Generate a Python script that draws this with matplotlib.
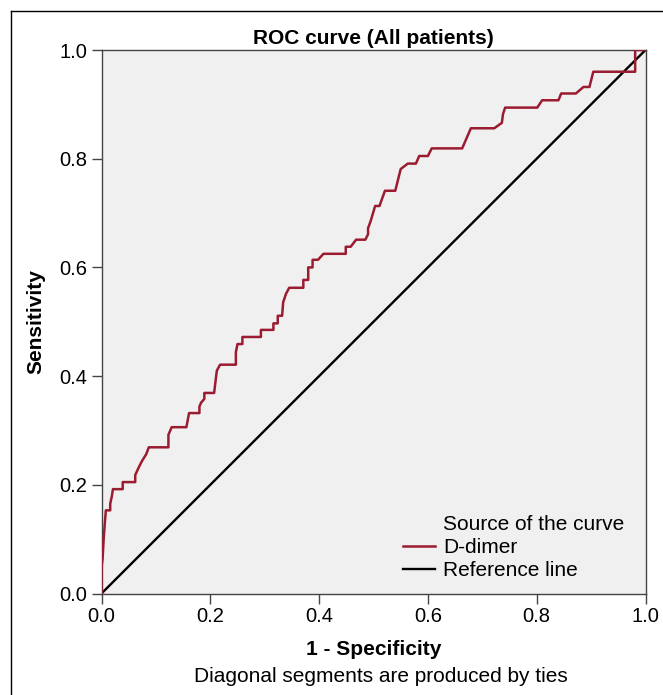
import matplotlib
matplotlib.use("Agg")
import matplotlib.pyplot as plt
from matplotlib.lines import Line2D

plt.rcParams['font.family'] = ['Liberation Sans', 'DejaVu Sans']

# ROC curve vertices (1 - specificity, sensitivity)
fpr = [0.000, 0.000, 0.002, 0.004, 0.006, 0.008, 0.016, 0.016, 0.019, 0.021,
       0.039, 0.039, 0.062, 0.062, 0.068, 0.074, 0.082, 0.087, 0.123, 0.123,
       0.129, 0.156, 0.161, 0.180, 0.180, 0.183, 0.189, 0.189, 0.207, 0.212,
       0.218, 0.247, 0.247, 0.250, 0.259, 0.259, 0.293, 0.293, 0.316, 0.316,
       0.324, 0.324, 0.332, 0.334, 0.339, 0.345, 0.371, 0.371, 0.380, 0.380,
       0.388, 0.388, 0.398, 0.408, 0.449, 0.449, 0.458, 0.468, 0.485, 0.490,
       0.490, 0.495, 0.503, 0.511, 0.521, 0.540, 0.550, 0.563, 0.578, 0.584,
       0.600, 0.607, 0.663, 0.679, 0.722, 0.736, 0.738, 0.742, 0.801, 0.810,
       0.840, 0.845, 0.872, 0.886, 0.897, 0.904, 0.981, 0.981, 1.000]
tpr = [0.000, 0.048, 0.064, 0.100, 0.128, 0.153, 0.153, 0.165, 0.179, 0.192,
       0.192, 0.205, 0.205, 0.218, 0.231, 0.243, 0.256, 0.269, 0.269, 0.292,
       0.306, 0.306, 0.332, 0.332, 0.344, 0.351, 0.358, 0.369, 0.369, 0.410,
       0.421, 0.421, 0.444, 0.459, 0.459, 0.472, 0.472, 0.485, 0.485, 0.497,
       0.497, 0.511, 0.511, 0.536, 0.551, 0.5625, 0.5625, 0.577, 0.577, 0.600,
       0.600, 0.614, 0.614, 0.625, 0.625, 0.638, 0.638, 0.651, 0.651, 0.661,
       0.672, 0.686, 0.713, 0.713, 0.741, 0.741, 0.781, 0.791, 0.791, 0.805,
       0.805, 0.819, 0.819, 0.856, 0.856, 0.866, 0.882, 0.894, 0.894, 0.9075,
       0.9075, 0.920, 0.920, 0.932, 0.932, 0.960, 0.960, 1.000, 1.000]
ref_x = [0.0, 1.0]
ref_y = [0.0, 1.0]
ticks = [0.0, 0.2, 0.4, 0.6, 0.8, 1.0]

fig = plt.figure(figsize=(6.63, 6.95), dpi=100)
ax = fig.add_axes([101.5 / 663, 1 - 593.5 / 695, 544 / 663, 543.5 / 695])
ax.set_facecolor('#f0f0f0')

ax.plot(fpr, tpr, color='#9b1b30', lw=1.8, label='D-dimer', zorder=3)
ax.plot(ref_x, ref_y, color='black', lw=1.7, label='Reference line', zorder=2)

ax.set_xlim(0, 1)
ax.set_ylim(0, 1)
ax.set_xticks(ticks)
ax.set_yticks(ticks)
ax.set_xticklabels([f'{t:.1f}' for t in ticks])
ax.set_yticklabels([f'{t:.1f}' for t in ticks])
ax.tick_params(direction='out', length=7, width=1, color='#444444',
               labelsize=14.5, pad=3)
for s in ax.spines.values():
    s.set_color('#444444')
    s.set_linewidth(1)

ax.set_title('ROC curve (All patients)', fontsize=15, fontweight='bold', pad=4)
ax.set_xlabel('1 - Specificity', fontsize=15, fontweight='bold', labelpad=10)
ax.set_ylabel('Sensitivity', fontsize=15, fontweight='bold', labelpad=10)

# legend title is given as a blank-handle entry so it lines up with the labels
blank = Line2D([], [], color='none')
h, l = ax.get_legend_handles_labels()
ax.legend([blank] + h, ['Source of the curve'] + l, loc='lower right',
          bbox_to_anchor=(0.992, -0.006), frameon=False, fontsize=15,
          handlelength=1.55, handletextpad=0.4, labelspacing=0.2,
          borderaxespad=0.4)

fig.text(381 / 663, 1 - 677 / 695, 'Diagonal segments are produced by ties',
         ha='center', va='center', fontsize=15)

# thin frame round the figure (left and top)
fig.add_artist(Line2D([11 / 663, 11 / 663], [0, 1 - 11 / 695],
                      transform=fig.transFigure, color='black', lw=1))
fig.add_artist(Line2D([11 / 663, 1], [1 - 11 / 695, 1 - 11 / 695],
                      transform=fig.transFigure, color='black', lw=1))

fig.savefig('out.png', dpi=100)
